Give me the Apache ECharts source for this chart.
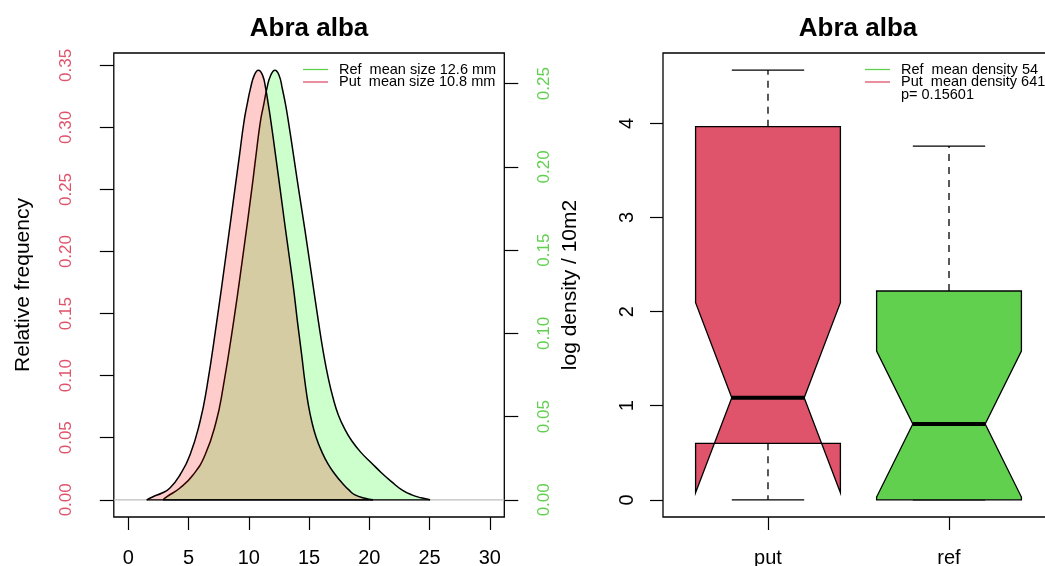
<!DOCTYPE html>
<html>
<head>
<meta charset="utf-8">
<script src="https://cdn.jsdelivr.net/npm/echarts@6/dist/echarts.min.js"></script>
<style>
  html, body { margin: 0; padding: 0; background: #fff; }
  #chart { width: 1045px; height: 566px; }
</style>
</head>
<body>
<div id="chart"></div>
<script>
// Size-frequency curves of Abra alba (shell length in mm)
const putSizeX = [1.53, 2.05, 2.80, 3.46, 4.29, 5.12, 5.95, 6.51, 7.34, 8.11, 8.86, 9.23, 9.60, 9.85, 10.14, 10.46, 10.79, 11.14, 11.40, 11.63, 11.84, 12.22, 12.59, 12.96, 13.34, 13.71, 14.04, 14.39, 14.66, 14.95, 15.25, 15.60, 16.00, 16.57, 17.20, 17.71, 18.30, 18.81, 19.64, 20.31];
const putFreq = [0, 0.0025, 0.0055, 0.0095, 0.0200, 0.0361, 0.0629, 0.0900, 0.1434, 0.1972, 0.2511, 0.2777, 0.3045, 0.3179, 0.3314, 0.3421, 0.3461, 0.3421, 0.3314, 0.3179, 0.3045, 0.2777, 0.2511, 0.2240, 0.1972, 0.1706, 0.1434, 0.1166, 0.0950, 0.0760, 0.0620, 0.0500, 0.0400, 0.0290, 0.0200, 0.0140, 0.0080, 0.0040, 0.0012, 0];
const refSizeX = [2.88, 3.21, 4.29, 5.37, 6.37, 7.29, 7.86, 8.74, 9.52, 10.26, 10.60, 10.96, 11.23, 11.50, 11.82, 12.17, 12.51, 12.78, 13.06, 13.29, 13.71, 14.12, 14.66, 15.22, 15.77, 16.20, 16.60, 17.00, 17.43, 18.00, 18.54, 19.30, 20.20, 21.00, 21.86, 22.70, 23.52, 24.30, 25.04];
const refFreq = [0, 0.0019, 0.0071, 0.0149, 0.0269, 0.0469, 0.0671, 0.1070, 0.1470, 0.1872, 0.2071, 0.2271, 0.2371, 0.2471, 0.2551, 0.2581, 0.2551, 0.2471, 0.2371, 0.2271, 0.2071, 0.1872, 0.1620, 0.1345, 0.1075, 0.0880, 0.0730, 0.0610, 0.0510, 0.0420, 0.0355, 0.0285, 0.0220, 0.0163, 0.0108, 0.0060, 0.0030, 0.0012, 0];

const sizeLimits = [0, 30];
const sizeTicks = [0, 5, 10, 15, 20, 25, 30];
const freqTicks = [0, 0.05, 0.10, 0.15, 0.20, 0.25, 0.30, 0.35];
const densTicks = [0, 0.05, 0.10, 0.15, 0.20, 0.25];

// Log density per 10 m2: [min, Q1, median, Q3, max] and notch [low, high]
const boxNames = ['put', 'ref'];
const putBox = [0, 0.600, 1.085, 3.965, 4.565];
const putNotch = [0.075, 2.095];
const refBox = [0, 0, 0.805, 2.219, 3.759];
const refNotch = [0.029, 1.581];
const boxTicks = [0, 1, 2, 3, 4];

const meanSize = [12.6, 10.8];      // ref, put
const meanDensity = [54, 641];      // ref, put
const pValue = 0.15601;

const RED = '#DF536B';
const GREEN = '#61D04F';
const FONT = "'Liberation Sans', Arial, Helvetica, sans-serif";

// R-style axis range: data range extended by 4% on each side
function padRange(lo, hi) { const d = (hi - lo) * 0.04; return [lo - d, hi + d]; }
const [xMin, xMax] = padRange(sizeLimits[0], sizeLimits[1]);
const [yfMin, yfMax] = padRange(0, Math.max(...putFreq));
const [ydMin, ydMax] = padRange(0, Math.max(...refFreq));
const boxAll = putBox.concat(refBox);
const [ybMin, ybMax] = padRange(Math.min(...boxAll), Math.max(...boxAll));
const [xbMin, xbMax] = padRange(0.5, boxNames.length + 0.5);

const zip = (xs, ys) => xs.map((x, i) => [x, ys[i]]);

const tickStyle = { color: '#000', width: 1.2 };
const noLine = { show: false, onZero: false };
const chart = echarts.init(document.getElementById('chart'));

const BOX_W = 0.4, NOTCH_W = 0.2, CAP_W = 0.2;
const boxColors = [RED, GREEN];

function renderBox(params, api) {
  const x = api.value(0);
  const lo = api.value(1), q1 = api.value(2), med = api.value(3), q3 = api.value(4), hi = api.value(5);
  const nLo = api.value(6), nHi = api.value(7);
  const P = (dx, y) => api.coord([x + dx, y]);
  const seg = (a, b, extra) => ({
    type: 'line',
    shape: { x1: a[0], y1: a[1], x2: b[0], y2: b[1] },
    style: Object.assign({ stroke: '#000', lineWidth: 1.3 }, extra || {})
  });
  return {
    type: 'group',
    children: [
      seg(P(0, q3), P(0, hi), { lineDash: [7, 6] }),
      seg(P(0, q1), P(0, lo), { lineDash: [7, 6] }),
      seg(P(-CAP_W, hi), P(CAP_W, hi)),
      seg(P(-CAP_W, lo), P(CAP_W, lo)),
      {
        type: 'polygon',
        shape: { points: [
          P(-BOX_W, q1), P(BOX_W, q1), P(BOX_W, nLo), P(NOTCH_W, med), P(BOX_W, nHi),
          P(BOX_W, q3), P(-BOX_W, q3), P(-BOX_W, nHi), P(-NOTCH_W, med), P(-BOX_W, nLo)
        ] },
        style: { fill: boxColors[params.dataIndex], stroke: '#000', lineWidth: 1.3 }
      },
      seg(P(-NOTCH_W, med), P(NOTCH_W, med), { lineWidth: 4 })
    ]
  };
}

function legendRow(x, y, color, text) {
  const items = [];
  if (color) {
    items.push({ type: 'line', shape: { x1: x, y1: y, x2: x + 25, y2: y }, style: { stroke: color, lineWidth: 1.3 }, silent: true });
  }
  items.push({ type: 'text', x: x + 36, y: y, silent: true,
    style: { text: text, fill: '#000', font: '14.5px ' + FONT, textVerticalAlign: 'middle', verticalAlign: 'middle' } });
  return items;
}

const option = {
  animation: false,
  backgroundColor: '#fff',
  title: [
    { text: 'Abra alba', left: 309, top: 16, textAlign: 'center', padding: 0,
      textStyle: { fontSize: 26, fontWeight: 'bold', fontFamily: FONT, color: '#000' } },
    { text: 'Abra alba', left: 858, top: 16, textAlign: 'center', padding: 0,
      textStyle: { fontSize: 26, fontWeight: 'bold', fontFamily: FONT, color: '#000' } }
  ],
  grid: [
    { left: 113.8, top: 53, width: 390.5, height: 464, show: true, borderColor: '#000', borderWidth: 1.3,
      backgroundColor: 'transparent', containLabel: false, outerBoundsMode: 'none' },
    { left: 663, top: 53, width: 391, height: 464, show: true, borderColor: '#000', borderWidth: 1.3,
      backgroundColor: 'transparent', containLabel: false, outerBoundsMode: 'none' }
  ],
  xAxis: [
    { type: 'value', gridIndex: 0, min: xMin, max: xMax,
      axisLine: noLine, splitLine: { show: false },
      axisTick: { show: true, inside: false, length: 13, lineStyle: tickStyle, customValues: sizeTicks },
      axisLabel: { customValues: sizeTicks, margin: 31, fontSize: 20, fontFamily: FONT, color: '#000' } },
    { type: 'value', gridIndex: 1, min: xbMin, max: xbMax,
      axisLine: noLine, splitLine: { show: false },
      axisTick: { show: true, inside: false, length: 13, lineStyle: tickStyle, customValues: [1, 2] },
      axisLabel: { customValues: [1, 2], margin: 31, fontSize: 20, fontFamily: FONT, color: '#000',
        formatter: v => boxNames[Math.round(v) - 1] } }
  ],
  yAxis: [
    { type: 'value', gridIndex: 0, position: 'left', min: yfMin, max: yfMax,
      name: 'Relative frequency', nameLocation: 'middle', nameGap: 80, nameRotate: 90,
      nameTextStyle: { fontSize: 21, fontFamily: FONT, color: '#000' },
      axisLine: noLine, splitLine: { show: false },
      axisTick: { show: true, inside: false, length: 14, lineStyle: tickStyle, customValues: freqTicks },
      axisLabel: { customValues: freqTicks, rotate: 90, margin: 39, fontSize: 17, fontFamily: FONT, color: RED,
        formatter: v => v.toFixed(2) } },
    { type: 'value', gridIndex: 0, position: 'right', min: ydMin, max: ydMax,
      name: 'log density / 10m2', nameLocation: 'middle', nameGap: 55, nameRotate: 90,
      nameTextStyle: { fontSize: 21, fontFamily: FONT, color: '#000' },
      axisLine: noLine, splitLine: { show: false },
      axisTick: { show: true, inside: false, length: 14, lineStyle: tickStyle, customValues: densTicks },
      axisLabel: { customValues: densTicks, rotate: 90, margin: 32, fontSize: 17, fontFamily: FONT, color: GREEN,
        formatter: v => v.toFixed(2) } },
    { type: 'value', gridIndex: 1, position: 'left', min: ybMin, max: ybMax,
      axisLine: noLine, splitLine: { show: false },
      axisTick: { show: true, inside: false, length: 13, lineStyle: tickStyle, customValues: boxTicks },
      axisLabel: { customValues: boxTicks, rotate: 90, margin: 26, fontSize: 20, fontFamily: FONT, color: '#000' } }
  ],
  series: [
    { name: 'zero', type: 'line', xAxisIndex: 0, yAxisIndex: 0, z: 1, silent: true,
      data: [[xMin, 0], [xMax, 0]], showSymbol: false, symbol: 'none',
      lineStyle: { color: '#BEBEBE', width: 1.3 } },
    { name: 'Ref', type: 'line', xAxisIndex: 0, yAxisIndex: 1, z: 2, silent: true,
      data: zip(refSizeX, refFreq), showSymbol: false, symbol: 'none',
      smooth: 0.5,
      lineStyle: { color: '#000', width: 1.5 },
      areaStyle: { color: 'rgba(0,255,0,0.2)', opacity: 1 } },
    { name: 'Put', type: 'line', xAxisIndex: 0, yAxisIndex: 0, z: 3, silent: true,
      data: zip(putSizeX, putFreq), showSymbol: false, symbol: 'none',
      smooth: 0.5,
      lineStyle: { color: '#000', width: 1.5 },
      areaStyle: { color: 'rgba(255,0,0,0.2)', opacity: 1 } },
    { name: 'Ref base', type: 'line', xAxisIndex: 0, yAxisIndex: 1, z: 4, silent: true,
      data: [[refSizeX[0], 0], [refSizeX[refSizeX.length - 1], 0]], showSymbol: false, symbol: 'none',
      lineStyle: { color: '#000', width: 1.3 } },
    { name: 'Put base', type: 'line', xAxisIndex: 0, yAxisIndex: 0, z: 4, silent: true,
      data: [[putSizeX[0], 0], [putSizeX[putSizeX.length - 1], 0]], showSymbol: false, symbol: 'none',
      lineStyle: { color: '#000', width: 1.3 } },
    { name: 'Log density', type: 'custom', xAxisIndex: 1, yAxisIndex: 2, z: 2, silent: true,
      renderItem: renderBox,
      encode: { x: 0, y: [1, 2, 3, 4, 5] },
      data: [
        [1].concat(putBox, putNotch),
        [2].concat(refBox, refNotch)
      ] }
  ],
  graphic: [].concat(
    legendRow(303, 69.5, GREEN, 'Ref  mean size ' + meanSize[0] + ' mm'),
    legendRow(303, 82, RED, 'Put  mean size ' + meanSize[1] + ' mm'),
    legendRow(865, 69.5, GREEN, 'Ref  mean density ' + meanDensity[0]),
    legendRow(865, 82, RED, 'Put  mean density ' + meanDensity[1]),
    legendRow(865, 94.5, null, 'p= ' + pValue)
  )
};

chart.setOption(option);
</script>
</body>
</html>
